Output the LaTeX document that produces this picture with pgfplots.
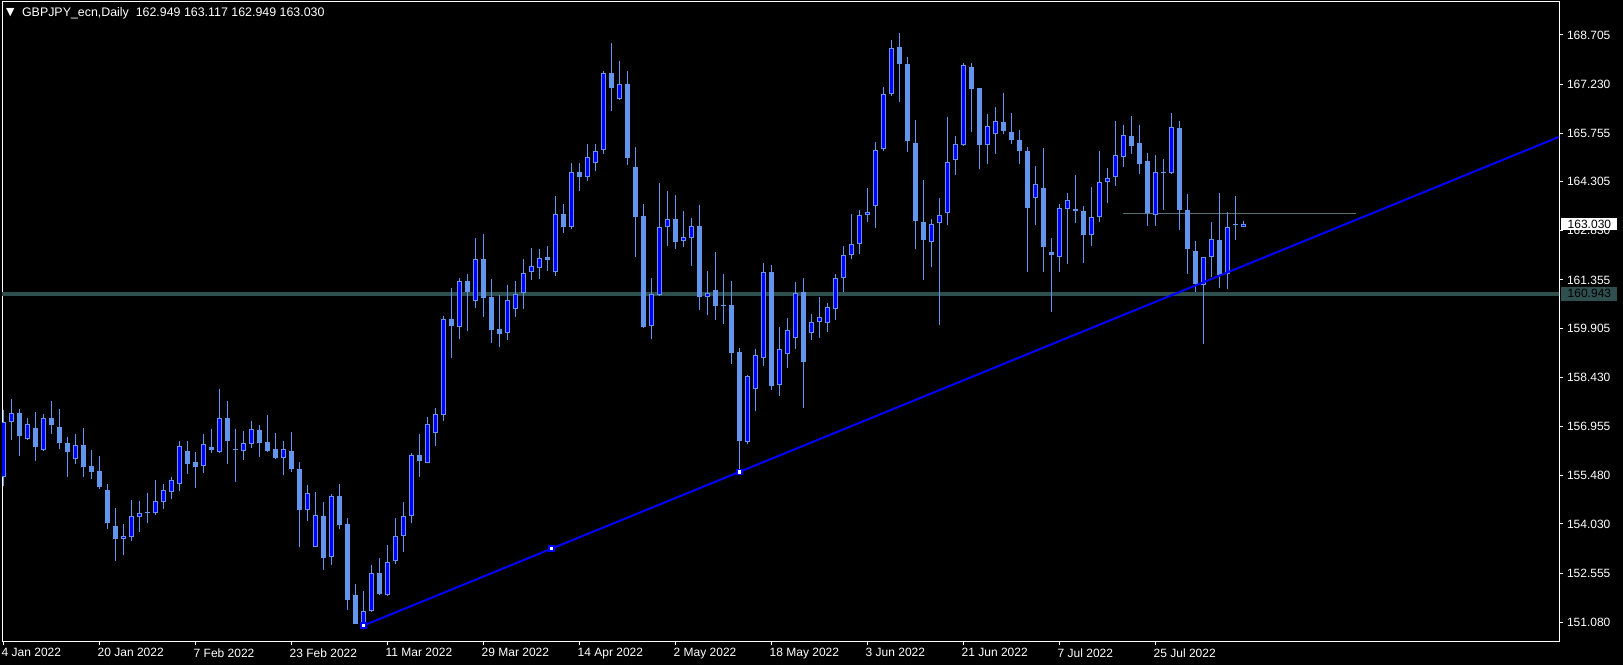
\documentclass[border=0pt]{standalone}
\usepackage{pgfplots}
\pgfplotsset{compat=1.18}
\usepackage{pgfplotstable}
\usepackage{fontspec}
\setmainfont{Liberation Sans}
\newfontfamily\dejavu{DejaVu Sans}
\definecolor{cflower}{HTML}{6495ED}
\definecolor{upblue}{HTML}{0000FF}
\definecolor{slate}{HTML}{2F4F4F}

% daily candles, bar index from 4 Jan 2022
\pgfplotstableread{
i o h l c
0 155.43 157.45 155.18 157.10
1 157.10 157.78 156.55 157.35
2 157.36 157.48 156.07 156.68
3 156.59 157.20 156.55 157.02
4 156.91 157.39 155.93 156.35
5 156.24 157.33 156.22 157.20
6 157.21 157.72 156.74 157.01
7 156.94 157.48 156.28 156.47
8 156.46 156.64 155.45 156.20
9 155.97 156.73 155.83 156.39
10 156.40 156.91 155.45 155.75
11 155.77 156.25 155.39 155.60
12 155.62 156.07 155.08 155.15
13 155.05 155.23 153.89 154.07
14 153.97 154.51 152.93 153.59
15 153.57 154.03 153.11 153.67
16 153.63 154.75 153.53 154.27
17 154.23 154.72 153.80 154.35
18 154.36 154.96 154.07 154.35
19 154.35 155.36 154.31 154.72
20 154.68 155.23 154.49 155.04
21 154.98 155.44 154.79 155.34
22 155.22 156.52 155.03 156.36
23 156.22 156.52 155.54 155.84
24 155.88 156.19 155.12 155.75
25 155.76 156.73 155.57 156.42
26 156.33 156.88 156.17 156.26
27 156.20 158.08 156.17 157.20
28 157.20 157.72 155.84 156.53
29 156.25 156.88 155.30 156.24
30 156.21 156.82 155.96 156.45
31 156.42 157.12 156.32 156.87
32 156.84 157.00 156.05 156.47
33 156.49 157.30 156.19 156.22
34 156.28 156.76 155.98 156.02
35 156.02 156.52 155.51 156.28
36 156.22 156.79 155.60 155.69
37 155.68 155.88 153.35 154.46
38 154.44 155.20 154.13 154.95
39 153.33 154.99 153.33 154.30
40 154.27 154.69 152.65 153.02
41 153.03 154.93 152.81 154.86
42 154.86 155.23 153.87 154.01
43 154.02 154.20 151.46 151.76
44 151.89 152.23 151.02 151.04
45 151.05 152.02 150.98 151.43
46 151.43 152.80 151.40 152.55
47 152.55 153.00 151.89 151.94
48 151.89 153.40 151.86 152.88
49 152.91 154.21 152.82 153.66
50 153.66 154.68 153.20 154.26
51 154.26 156.17 154.07 156.09
52 156.09 156.73 155.45 155.93
53 155.87 157.24 155.85 157.02
54 156.75 157.50 156.38 157.32
55 157.29 160.27 157.13 160.17
56 160.17 161.10 159.02 159.98
57 159.95 161.41 159.59 161.31
58 161.32 161.53 159.83 161.00
59 160.73 162.60 160.50 161.98
60 161.98 162.73 160.25 160.82
61 160.84 161.38 159.45 159.86
62 159.88 160.90 159.35 159.74
63 159.75 161.20 159.55 160.75
64 160.47 161.32 160.25 160.92
65 160.95 161.98 160.49 161.55
66 161.58 162.31 161.36 161.76
67 161.70 162.28 161.39 162.00
68 161.96 162.37 161.63 162.03
69 161.60 163.87 161.48 163.32
70 163.33 163.63 162.77 162.95
71 162.95 164.85 162.89 164.58
72 164.58 164.85 164.03 164.45
73 164.43 165.42 164.33 165.03
74 164.85 165.42 164.63 165.21
75 165.24 167.61 165.14 167.55
76 167.55 168.46 166.43 167.12
77 166.79 167.92 166.76 167.22
78 167.23 167.61 164.81 165.02
79 164.74 165.34 162.05 163.25
80 163.27 163.63 159.92 159.95
81 159.96 161.41 159.59 160.92
82 160.90 164.26 160.88 162.93
83 162.93 164.02 162.38 163.17
84 163.17 163.90 162.29 162.50
85 162.51 163.42 162.35 162.63
86 162.60 163.21 161.78 162.96
87 162.97 163.60 160.46 160.83
88 160.83 161.62 160.31 160.95
89 161.04 162.19 160.16 160.58
90 160.60 161.53 160.04 160.58
91 160.59 161.32 158.84 159.17
92 159.18 159.30 155.60 156.53
93 156.50 158.49 156.44 158.46
94 158.07 159.27 157.43 159.09
95 159.00 161.85 158.78 161.58
96 161.58 161.80 158.06 158.18
97 158.19 159.94 157.88 159.27
98 159.12 160.20 158.72 159.84
99 159.60 161.30 159.29 160.95
100 161.00 161.40 157.50 158.90
101 159.75 160.34 159.55 160.09
102 160.09 160.84 159.60 160.24
103 160.06 160.67 159.80 160.54
104 160.48 161.54 160.14 161.41
105 161.41 162.37 161.00 162.10
106 162.10 163.33 161.97 162.43
107 162.43 163.45 162.13 163.30
108 163.30 164.11 163.09 163.39
109 163.56 165.49 162.90 165.25
110 165.27 167.14 165.21 166.93
111 166.92 168.56 166.86 168.31
112 168.34 168.77 166.68 167.82
113 167.83 168.04 165.18 165.51
114 165.46 166.15 162.27 163.11
115 163.09 164.35 161.34 162.54
116 162.49 163.18 161.73 163.03
117 163.06 163.81 159.99 163.30
118 163.35 166.25 162.99 164.89
119 164.95 165.68 164.49 165.43
120 165.39 167.86 165.36 167.80
121 167.73 167.86 165.78 167.09
122 167.11 167.11 164.67 165.39
123 165.39 166.34 164.82 165.97
124 165.72 166.55 165.12 166.12
125 166.10 166.97 165.72 165.81
126 165.79 166.37 165.42 165.54
127 165.56 165.86 164.82 165.21
128 165.23 165.33 161.58 163.50
129 163.81 164.78 163.00 164.23
130 164.12 165.32 161.58 162.33
131 162.20 162.62 160.38 162.09
132 162.04 163.63 161.58 163.51
133 163.48 163.96 161.82 163.75
134 163.47 164.50 163.05 163.43
135 163.42 163.58 161.85 162.69
136 162.69 164.15 162.36 163.25
137 163.24 165.23 163.08 164.29
138 164.29 164.72 163.65 164.41
139 164.43 166.13 164.16 165.10
140 165.05 166.00 164.73 165.69
141 165.67 166.27 165.14 165.38
142 165.46 166.00 164.53 164.84
143 164.92 165.16 162.98 163.35
144 163.29 165.10 162.98 164.58
145 164.57 164.98 163.46 164.56
146 164.57 166.36 164.54 165.93
147 165.90 166.12 162.86 163.46
148 163.45 163.93 161.54 162.29
149 162.21 162.52 161.00 161.22
150 161.19 162.03 159.44 162.03
151 162.03 163.09 161.45 162.57
152 162.55 163.96 161.12 161.51
153 161.54 163.39 161.08 162.93
154 163.00 163.87 162.56 163.01
155 162.949 163.117 162.949 163.030
}\candles

\begin{document}
\begin{tikzpicture}
\path[use as bounding box] (0,0) rectangle (811.5pt,332.5pt);
\fill[black] (0,0) rectangle (811.5pt,332.5pt);
\begin{axis}[
    at={(1pt,12pt)}, anchor=south west,
    scale only axis, width=778.5pt, height=320pt,
    xmin=-0.1625, xmax=194.4625,
    ymin=150.518, ymax=169.725,
    clip mode=individual,
    axis line style={white, line width=0.5pt},
    tick align=outside, major tick length=2pt,
    tick style={white, line width=0.5pt},
    xtick pos=lower, ytick pos=upper, yticklabel pos=right,
    xtick={0,12,...,144},
    xticklabels={4 Jan 2022,20 Jan 2022,7 Feb 2022,23 Feb 2022,11 Mar 2022,29 Mar 2022,14 Apr 2022,2 May 2022,18 May 2022,3 Jun 2022,21 Jun 2022,7 Jul 2022,25 Jul 2022},
    ytick={151.080,152.555,154.030,155.480,156.955,158.430,159.905,161.355,162.830,164.305,165.755,167.230,168.705},
    yticklabels={151.080,152.555,154.030,155.480,156.955,158.430,159.905,161.355,162.830,164.305,165.755,167.230,168.705},
    every tick label/.append style={text=white, font=\fontsize{6}{7}\selectfont, inner sep=0pt},
    xticklabel style={anchor=north west, xshift=-1pt, yshift=-1.5pt},
    yticklabel style={anchor=west, xshift=1.8pt},
  ]
  % level line and short level
  \addplot[slate, line width=2pt, forget plot] coordinates {(-1,160.943) (200,160.943)};
  \addplot[slate!80!white, line width=0.9pt, forget plot] coordinates {(140,163.35) (169.1,163.35)};

  % wicks
  \addplot[draw=none, mark=none, forget plot,
    error bars/.cd, y dir=plus, y explicit, error mark=none,
    error bar style={line width=0.5pt, draw=cflower}]
    table[x=i, y=l, y error plus expr=\thisrow{h}-\thisrow{l}] {\candles};
  % bodies
  \addplot[draw=none, mark=none, forget plot,
    error bars/.cd, y dir=plus, y explicit, error mark=none,
    error bar style={line width=2.5pt, draw=cflower}]
    table[x=i, y expr={min(\thisrow{o},\thisrow{c})},
      y error plus expr={max(abs(\thisrow{c}-\thisrow{o}),0.03)}] {\candles};
  % up candles filled blue
  \addplot[draw=none, mark=none, forget plot,
    restrict expr to domain={\thisrow{c}-\thisrow{o}}{0.07:100},
    error bars/.cd, y dir=plus, y explicit, error mark=none,
    error bar style={line width=1.5pt, draw=upblue}]
    table[x=i, y expr=\thisrow{o}+0.03,
      y error plus expr=\thisrow{c}-\thisrow{o}-0.06] {\candles};

  % trend line
  \addplot[upblue, line width=1pt, forget plot] coordinates {(45,150.98) (194.6,165.66)};
  \addplot[only marks, mark=square*, mark size=1.2pt,
    mark options={fill=white, draw=upblue, line width=0.8pt}, forget plot]
    coordinates {(45,150.98) (68.5,153.29) (92,155.59)};

  \coordinate (lastp) at (axis cs:194.4625,163.03);
  \coordinate (levp) at (axis cs:194.4625,160.943);
\end{axis}
\node[fill=white, text=black, anchor=west, inner sep=0pt, minimum width=28pt,
  minimum height=6.4pt, font=\fontsize{6}{7}\selectfont] at ([xshift=1pt]lastp) {163.030};
\node[fill=slate, text=black, anchor=west, inner sep=0pt, minimum width=28pt,
  minimum height=7pt, font=\fontsize{6}{7}\selectfont] at ([xshift=1pt]levp) {160.943};
\node[anchor=west, inner sep=0pt, text=white, font=\dejavu\fontsize{5.5}{6}\selectfont]
  at (2.8pt,326.2pt) {▼};
\node[anchor=west, inner sep=0pt, text=white, font=\fontsize{6.2}{7}\selectfont]
  at (10.85pt,326pt) {GBPJPY\_ecn,Daily\ \ 162.949 163.117 162.949 163.030};
\end{tikzpicture}
\end{document}
